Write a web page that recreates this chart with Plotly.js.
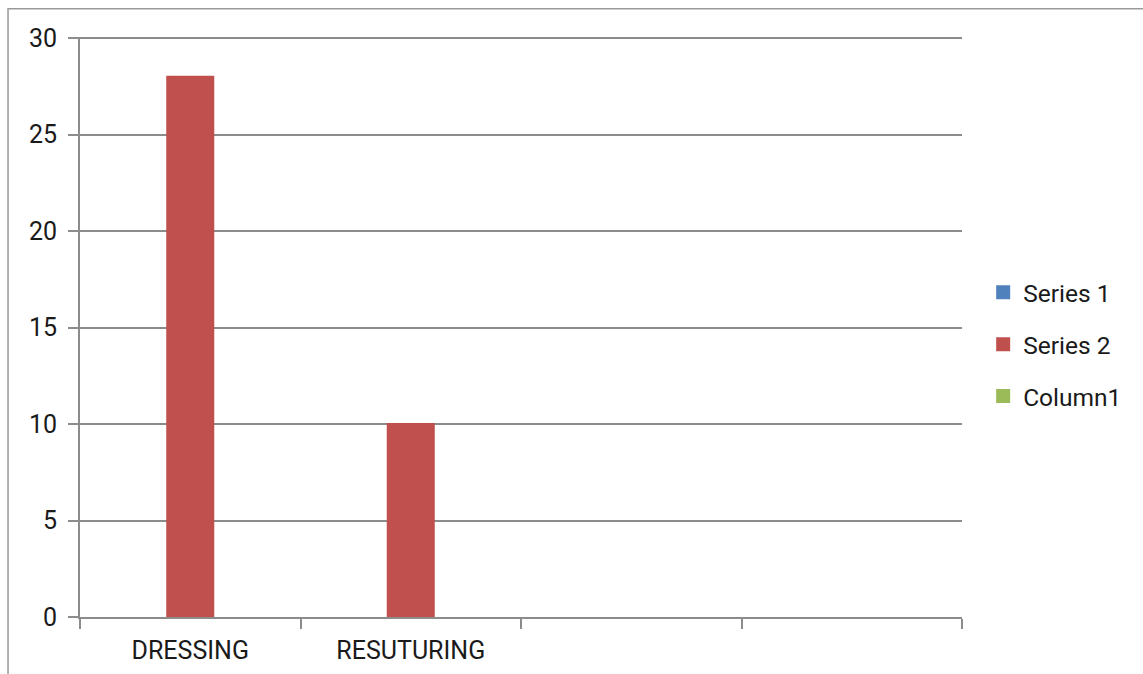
<!DOCTYPE html>
<html>
<head>
<meta charset="utf-8">
<script src="https://cdn.plot.ly/plotly-3.0.1.min.js"></script>
<style>html,body{margin:0;padding:0;background:#fff;}#chart{width:1143px;height:674px;}</style>
</head>
<body>
<div id="chart"></div>
<script>
const categories = ["DRESSING", "RESUTURING", "cat3", "cat4"];
const tickLabels = ["DRESSING", "RESUTURING", "", ""];
const series1 = [null, null, null, null];
const series2 = [28, 10, null, null];
const column1 = [null, null, null, null];
const yTicks = [0, 5, 10, 15, 20, 25, 30];

const FONT = "Roboto, 'Noto Sans', sans-serif";
const GRID = "#8c8c8c";
const TXT = "#1a1a1a";

function barTrace(name, y, color, grp) {
  return {type: "bar", name: name, x: categories, y: y, legendgroup: grp,
          marker: {color: color, line: {color: color, width: 2}}};
}

const traces = [
  barTrace("Series 1", series1, "#4F81BD", "a"),
  barTrace("Series 2", series2, "#C0504D", "b"),
  barTrace("Column1", column1, "#9BBB59", "c")
];

const layout = {
  width: 1143, height: 674,
  margin: {l: 80, r: 181, t: 37, b: 57},
  paper_bgcolor: "#fff", plot_bgcolor: "#fff",
  font: {family: FONT, color: TXT, size: 24},
  barmode: "group",
  bargap: 0.374, bargroupgap: 0,
  showlegend: true,
  legend: {x: 1.024, xanchor: "left", y: 0.47, yanchor: "middle", traceorder: "grouped", tracegroupgap: 17,
           font: {family: FONT, size: 24.5, color: TXT}, bgcolor: "rgba(0,0,0,0)"},
  xaxis: {
    type: "category", categoryorder: "array", categoryarray: categories,
    range: [-0.5, categories.length - 0.5],
    tickmode: "array", tickvals: categories, ticktext: tickLabels,
    tickson: "boundaries", ticks: "outside", ticklen: 10, tickwidth: 2, tickcolor: GRID,
    ticklabelstandoff: 10,
    showline: true, linecolor: GRID, linewidth: 2, showgrid: false, zeroline: false,
    tickfont: {family: FONT, size: 25, color: TXT}, fixedrange: true
  },
  yaxis: {
    range: [0, 30.06], tickmode: "array", tickvals: yTicks,
    ticks: "outside", ticklen: 10, tickwidth: 2, tickcolor: GRID,
    ticklabelstandoff: 6,
    showline: true, linecolor: GRID, linewidth: 2,
    showgrid: true, gridcolor: GRID, gridwidth: 2, zeroline: false,
    tickfont: {family: FONT, size: 25, color: TXT}, fixedrange: true
  },
  shapes: [
    {type: "rect", xref: "paper", yref: "paper", x0: -0.0816, x1: 1.4, y0: -0.3, y1: 1.0485,
     line: {color: "#9a9a9a", width: 1.5}, fillcolor: "rgba(0,0,0,0)", layer: "below"}
  ]
};

Plotly.newPlot("chart", traces, layout, {displayModeBar: false, staticPlot: true});
</script>
</body>
</html>
